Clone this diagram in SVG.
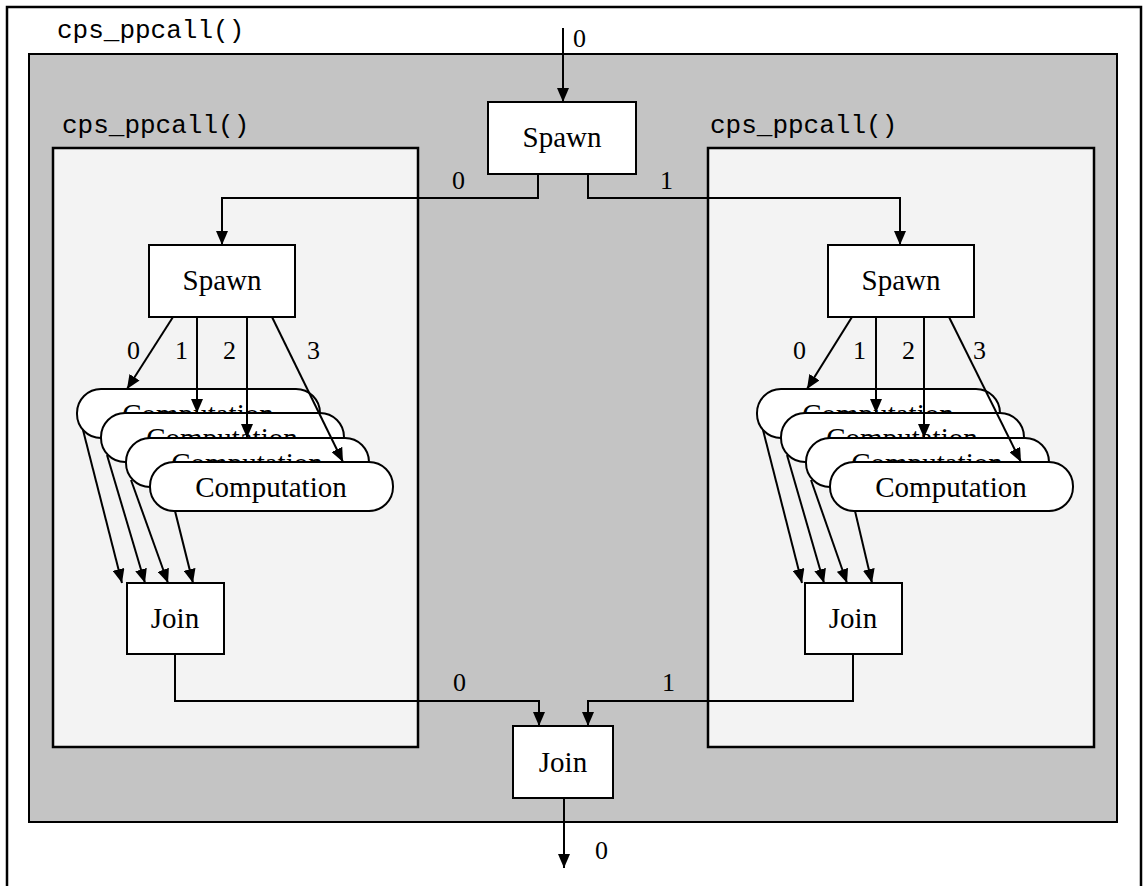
<svg xmlns="http://www.w3.org/2000/svg" width="1144" height="886" viewBox="0 0 1144 886">
  <defs>
    <marker id="ah" viewBox="0 0 14 12" refX="14" refY="6" markerWidth="14" markerHeight="12" markerUnits="userSpaceOnUse" orient="auto">
      <path d="M0,0 L14,6 L0,12 z" fill="#000"/>
    </marker>
  </defs>
  <style>
    .frame{fill:none;stroke:#000;stroke-width:2.5}
    .gray{fill:#c4c4c4;stroke:#000;stroke-width:2}
    .inner{fill:#f3f3f3;stroke:#000;stroke-width:2.5}
    .box{fill:#fff;stroke:#000;stroke-width:2}
    .pill{fill:#fff;stroke:#000;stroke-width:2}
    .mono{font-family:"Liberation Mono","Courier New",monospace;font-size:26px;fill:#000}
    .lbl{font-family:"Liberation Serif","Times New Roman",serif;font-size:29px;fill:#000;text-anchor:middle}
    .num{font-family:"Liberation Serif","Times New Roman",serif;font-size:26px;fill:#000}
    .con{fill:none;stroke:#000;stroke-width:2}
    .arr{fill:none;stroke:#000;stroke-width:2;marker-end:url(#ah)}
  </style>
  <rect width="1144" height="886" fill="#fff"/>

  <g id="outer-frame">
    <path class="frame" d="M7,886 V7 H1141 V886"/>
    <text class="mono" x="57" y="38">cps_ppcall()</text>
  </g>

  <g id="outer-ppcall">
    <rect class="gray" x="29" y="54" width="1088" height="768"/>
  </g>

  <g id="left-ppcall">
    <text class="mono" x="62" y="133">cps_ppcall()</text>
    <rect class="inner" x="53" y="148" width="365" height="599"/>
  </g>

  <g id="right-ppcall">
    <text class="mono" x="710" y="133">cps_ppcall()</text>
    <rect class="inner" x="708" y="148" width="386" height="599"/>
  </g>

  <g id="spawn-top">
    <rect class="box" x="488" y="102" width="148" height="72"/>
    <text class="lbl" x="562" y="147">Spawn</text>
  </g>

  <g id="spawn-left">
    <rect class="box" x="149" y="245" width="146" height="72"/>
    <text class="lbl" x="222" y="290">Spawn</text>
  </g>

  <g id="spawn-right">
    <rect class="box" x="828" y="245" width="146" height="72"/>
    <text class="lbl" x="901" y="290">Spawn</text>
  </g>

  <g id="comp-left-0">
    <rect class="pill" x="77" y="389" width="243" height="49" rx="24" ry="24"/>
    <text class="lbl" x="198" y="424">Computation</text>
  </g>
  <g id="comp-left-1">
    <rect class="pill" x="101" y="413" width="243" height="49" rx="24" ry="24"/>
    <text class="lbl" x="222" y="448">Computation</text>
  </g>
  <g id="comp-left-2">
    <rect class="pill" x="126" y="438" width="243" height="49" rx="24" ry="24"/>
    <text class="lbl" x="247" y="473">Computation</text>
  </g>
  <g id="comp-left-3">
    <rect class="pill" x="150" y="462" width="243" height="49" rx="24" ry="24"/>
    <text class="lbl" x="271" y="497">Computation</text>
  </g>

  <g id="comp-right-0">
    <rect class="pill" x="757" y="389" width="243" height="49" rx="24" ry="24"/>
    <text class="lbl" x="878" y="424">Computation</text>
  </g>
  <g id="comp-right-1">
    <rect class="pill" x="781" y="413" width="243" height="49" rx="24" ry="24"/>
    <text class="lbl" x="902" y="448">Computation</text>
  </g>
  <g id="comp-right-2">
    <rect class="pill" x="806" y="438" width="243" height="49" rx="24" ry="24"/>
    <text class="lbl" x="927" y="473">Computation</text>
  </g>
  <g id="comp-right-3">
    <rect class="pill" x="830" y="462" width="243" height="49" rx="24" ry="24"/>
    <text class="lbl" x="951" y="497">Computation</text>
  </g>

  <g id="join-left">
    <rect class="box" x="127" y="583" width="97" height="71"/>
    <text class="lbl" x="175" y="628">Join</text>
  </g>

  <g id="join-right">
    <rect class="box" x="805" y="583" width="97" height="71"/>
    <text class="lbl" x="853" y="628">Join</text>
  </g>

  <g id="join-bottom">
    <rect class="box" x="513" y="726" width="100" height="72"/>
    <text class="lbl" x="563" y="772">Join</text>
  </g>

  <g id="connectors">
    <path class="arr" d="M563,28 V102"/>
    <text class="num" x="573" y="47">0</text>

    <path class="arr" d="M538,174 V198 H222 V245"/>
    <text class="num" x="452" y="189">0</text>
    <path class="arr" d="M588,174 V198 H900 V245"/>
    <text class="num" x="660" y="189">1</text>

    <path class="arr" d="M173,317 L127,389"/>
    <path class="arr" d="M197,317 V413"/>
    <path class="arr" d="M247,317 V438"/>
    <path class="arr" d="M272,317 L343,462"/>
    <text class="num" x="127" y="359">0</text>
    <text class="num" x="175" y="359">1</text>
    <text class="num" x="223" y="359">2</text>
    <text class="num" x="307" y="359">3</text>

    <path class="arr" d="M852,317 L807,389"/>
    <path class="arr" d="M876,317 V413"/>
    <path class="arr" d="M924,317 V438"/>
    <path class="arr" d="M949,317 L1021,462"/>
    <text class="num" x="793" y="359">0</text>
    <text class="num" x="853" y="359">1</text>
    <text class="num" x="902" y="359">2</text>
    <text class="num" x="973" y="359">3</text>

    <path class="arr" d="M83,430 L122,583"/>
    <path class="arr" d="M107,455 L145,583"/>
    <path class="arr" d="M131,480 L168,583"/>
    <path class="arr" d="M175,511 L193,583"/>

    <path class="arr" d="M763,430 L802,583"/>
    <path class="arr" d="M787,455 L824,583"/>
    <path class="arr" d="M811,480 L847,583"/>
    <path class="arr" d="M855,511 L872,583"/>

    <path class="arr" d="M175,654 V701 H539 V726"/>
    <text class="num" x="453" y="691">0</text>
    <path class="arr" d="M853,654 V701 H588 V726"/>
    <text class="num" x="662" y="691">1</text>

    <path class="arr" d="M564,798 V868"/>
    <text class="num" x="595" y="859">0</text>
  </g>
</svg>
